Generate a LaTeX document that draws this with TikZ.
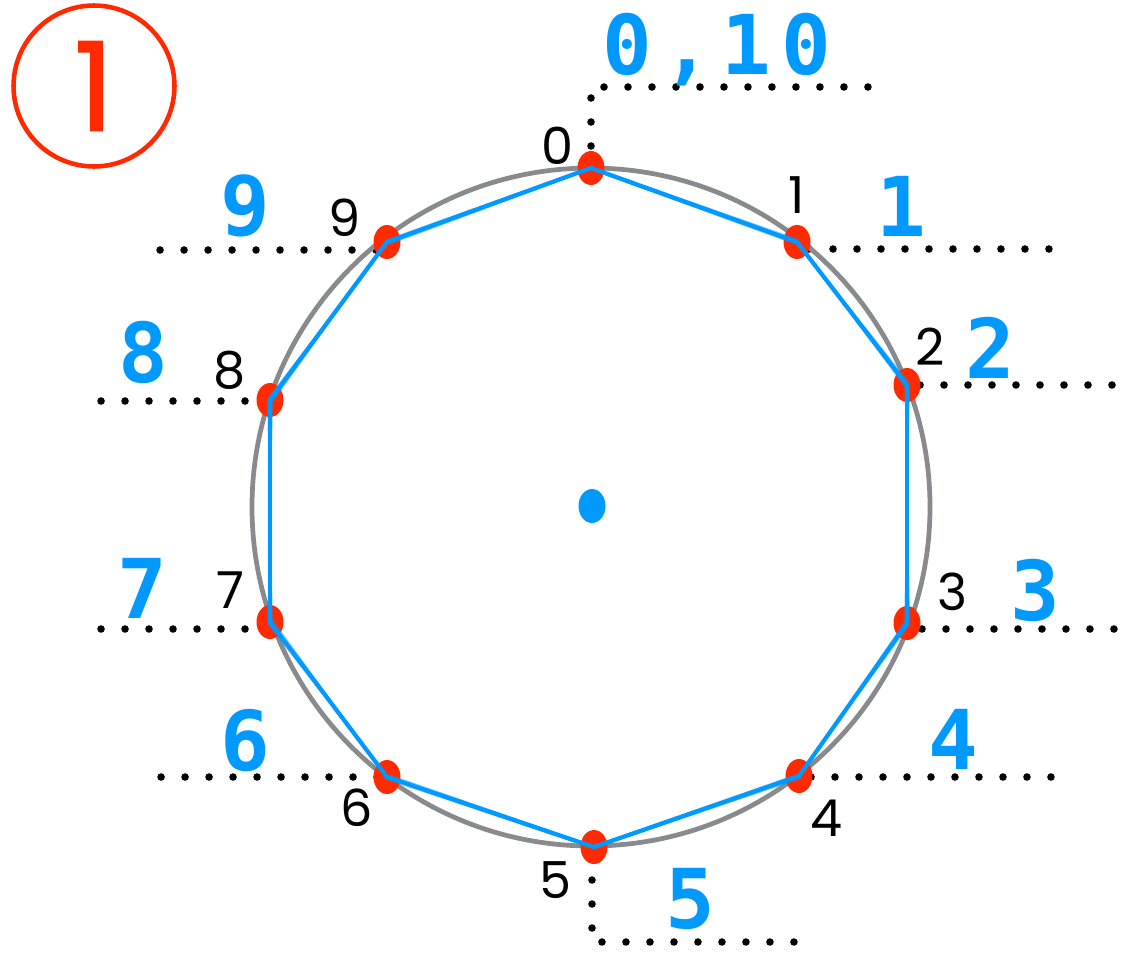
\documentclass[tikz,border=0pt]{standalone}
\usepackage{fontspec}
\newfontfamily\numfont{Poppins}
\newfontfamily\badgefont{Poppins}[FakeBold=1.6]
\newfontfamily\bignumfont{DejaVu Sans Mono}
\usetikzlibrary{shapes.geometric, backgrounds}
\definecolor{skyblue}{RGB}{0,153,255}
\definecolor{markred}{RGB}{255,42,0}
\definecolor{rimgray}{RGB}{136,138,142}

\begin{document}
\begin{tikzpicture}[
    x=0.02cm, y=-0.02cm,
    %% red marks on the rim
    pt/.style = {ellipse, fill=markred, inner sep=0pt,
      minimum width=0.54cm, minimum height=0.68cm},
    %% small black numbers
    num/.style = {font=\numfont\fontsize{29}{29}\selectfont,
      text=black, inner sep=0pt},
    %% big blue numbers
    big/.style = {font=\bignumfont\bfseries\fontsize{47}{47}\selectfont,
      text=skyblue, inner sep=0pt, text depth=0pt},
    %% leader lines
    dotline/.style = {line width=4.3pt, line cap=round,
      dash pattern=on 0pt off 0.48cm, black},
    %% polygon sides
    side/.style = {line width=2.4pt, skyblue, line cap=round},
  ]
    \useasboundingbox (0,0) rectangle (1121,953);

    %% ── badge ─────────────────────────────────────────────────────────
    \node[circle, draw=markred, line width=2.6pt, minimum size=3.22cm,
      inner sep=0pt, text=markred,
      font=\badgefont\fontsize{70}{70}\selectfont]
      (badge) at (94,86) {1};

    %% ── rim and marks ─────────────────────────────────────────────────
    \draw[rimgray, line width=2.7pt] (591,507) circle [radius=339];

    \foreach \i/\x/\y in {0/591/168, 1/797/242, 2/907/385, 3/907/623,
      4/799/776, 5/594/847, 6/387/777, 7/270/622, 8/270/400, 9/387/242}
      \node[pt] (p\i) at (\x,\y) {};

    \node[pt, fill=skyblue] (ctr) at (592,506) {};

    %% ── sides ─────────────────────────────────────────────────────────
    \foreach \a/\b in {0/1, 1/2, 2/3, 3/4, 4/5, 5/6, 6/7, 7/8, 8/9, 9/0} {
      \draw[side] (p\a.center) -- (p\b.center);
      \draw[side, line width=0.9pt, opacity=.6]
        ([shift={(2,2)}]p\a.center) -- ([shift={(-2,1.5)}]p\b.center);
      \draw[side, line width=0.7pt, opacity=.5]
        ([shift={(-2,-1.5)}]p\a.center) -- ([shift={(2.5,-2)}]p\b.center);
    }

    %% ── leader lines ──────────────────────────────────────────────────
    \begin{pgfonlayer}{background}
      \draw[dotline] (p0.center) ++(0,-22) |- ++(283,-59);
      \draw[dotline] (p1.center) ++(12,7)  -- ++(240,0);
      \draw[dotline] (p2.center) ++(13,0)  -- ++(192,0);
      \draw[dotline] (p3.center) ++(15,6)  -- ++(192,0);
      \draw[dotline] (p4.center) ++(12,1)  -- ++(240,0);
      \draw[dotline] (p5.center) ++(-2,33) |- ++(210,62);
      \draw[dotline] (p6.center) ++(-10,0) -- ++(-216,0);
      \draw[dotline] (p7.center) ++(-1,7)  -- ++(-168,0);
      \draw[dotline] (p8.center) ++(-1,1)  -- ++(-168,0);
      \draw[dotline] (p9.center) ++(-11,8) -- ++(-216,0);
    \end{pgfonlayer}

    %% ── small numbers ─────────────────────────────────────────────────
    \node[num] (n0) at (557,146) {0};
    \node[num] (n1) at (797,195) {1};
    \node[num] (n2) at (930,347) {2};
    \node[num] (n3) at (952,592) {3};
    \node[num] (n4) at (827,818) {4};
    \node[num] (n5) at (555,880) {5};
    \node[num] (n6) at (357,808) {6};
    \node[num] (n7) at (230,590) {7};
    \node[num] (n8) at (230,370) {8};
    \node[num] (n9) at (345,218) {9};

    %% ── big numbers ───────────────────────────────────────────────────
    \node[big] (b0) at (717,44)  {\addfontfeatures{LetterSpace=12}0,10};
    \node[big] (b1) at (901,206) {1};
    \node[big] (b2) at (990,348) {2};
    \node[big] (b3) at (1035,590) {3};
    \node[big] (b4) at (953,739) {4};
    \node[big] (b5) at (690,898) {5};
    \node[big] (b6) at (245,740) {6};
    \node[big] (b7) at (142,588) {7};
    \node[big] (b8) at (143,352) {8};
    \node[big] (b9) at (245,205) {9};

  \end{tikzpicture}
\end{document}
